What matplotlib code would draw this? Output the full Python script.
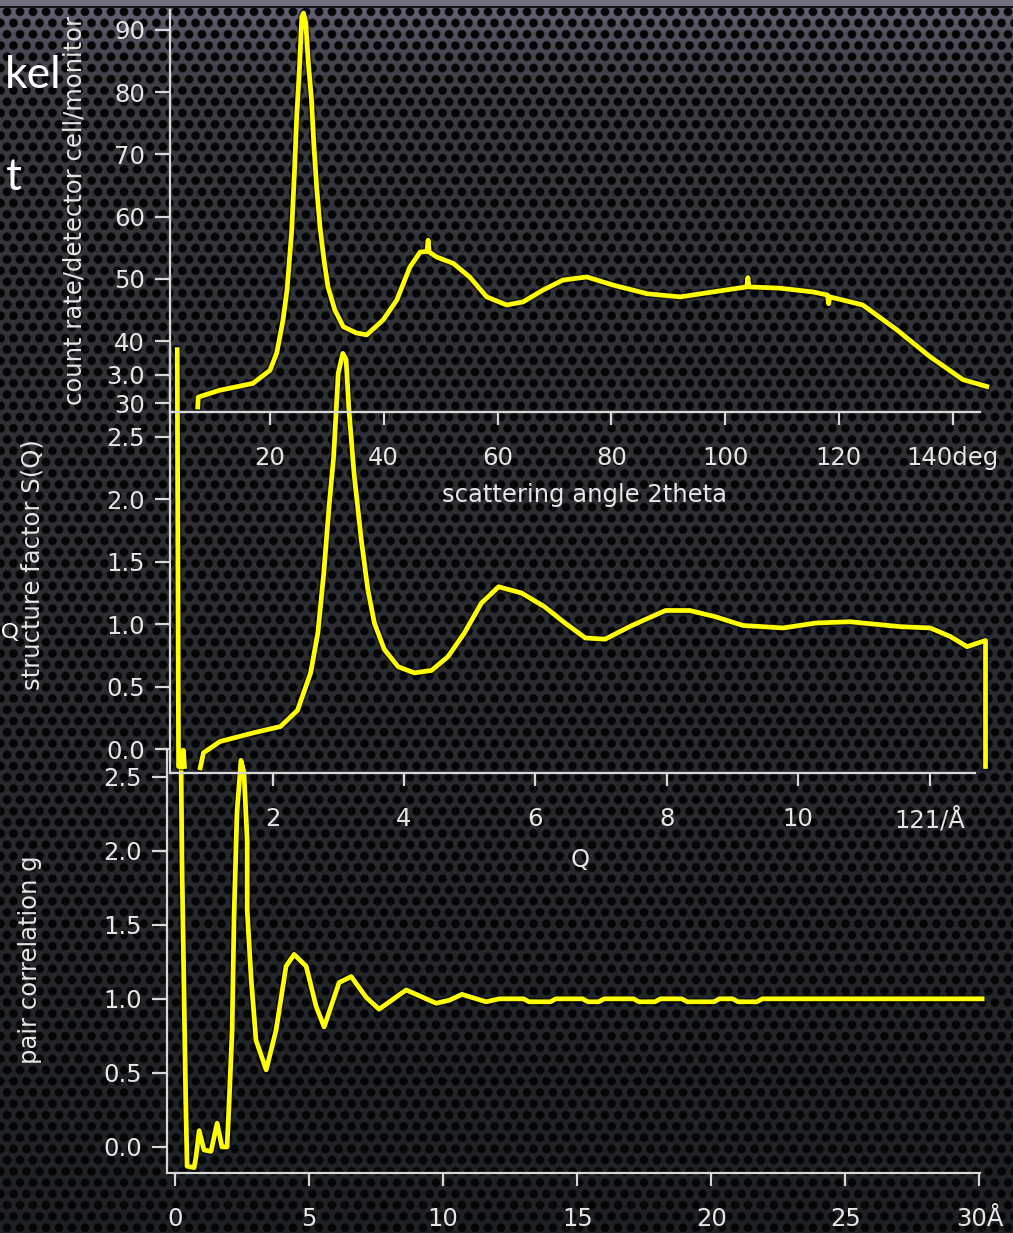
import numpy as np
import matplotlib
matplotlib.use("Agg")
import matplotlib.pyplot as plt
import matplotlib.patheffects as pe

# --- data ---
# top: raw count rate vs scattering angle
two_theta = [7.3, 7.4, 11.2, 17.0, 20.0, 21.2, 22.3, 23.0, 23.8, 24.3, 24.7, 25.2, 25.6, 25.9,
             26.3, 26.7, 27.3, 27.7, 28.2, 28.8, 29.5, 30.2, 31.4, 32.9, 35.2, 37.0, 39.9, 42.3,
             44.6, 46.4, 47.6, 47.8, 48.0, 49.3, 52.2, 55.1, 58.1, 61.6, 64.5, 68.0, 71.5, 75.7,
             80.3, 86.3, 92.1, 97.9, 103.8, 104.0, 104.2, 109.6, 115.4, 118.0, 118.2, 118.4,
             124.2, 130.2, 136.0, 141.8, 146.0]
counts = [29.4, 31.0, 32.1, 33.2, 35.3, 38.1, 43.4, 48.2, 57.4, 67.0, 76.0, 84.1, 92.1, 92.7,
          91.1, 85.2, 78.8, 71.8, 64.8, 58.3, 53.0, 48.7, 45.0, 42.3, 41.3, 41.0, 43.4, 46.6,
          51.9, 54.3, 54.4, 56.2, 54.3, 53.5, 52.5, 50.3, 47.1, 45.8, 46.3, 48.2, 49.8, 50.3,
          49.0, 47.6, 47.1, 47.9, 48.7, 50.2, 48.7, 48.5, 47.9, 47.4, 46.0, 47.1,
          45.8, 41.8, 37.5, 33.8, 32.7]

# middle: structure factor S(Q)
q = [0.55, 0.57, 0.63, 0.645, 0.66, np.nan,
     0.90, 0.95, 1.20, 1.71, 2.12, 2.38, 2.58, 2.69, 2.78, 2.86, 2.93, 3.00, 3.07, 3.12, 3.16,
     3.24, 3.35, 3.45, 3.55, 3.70, 3.91, 4.16, 4.42, 4.67, 4.92, 5.18, 5.44, 5.79, 6.14, 6.45,
     6.76, 7.06, 7.47, 7.98, 8.35, 8.74, 9.16, 9.77, 10.27, 10.79, 11.56, 12.01, 12.32, 12.57,
     12.85, 12.85]
s_q = [3.20, -0.14, -0.14, -0.01, -0.14, np.nan,
       -0.15, -0.03, 0.06, 0.13, 0.18, 0.31, 0.61, 0.93, 1.41, 1.94, 2.34, 3.01, 3.17, 3.12, 2.74,
       2.21, 1.68, 1.28, 1.01, 0.80, 0.66, 0.61, 0.63, 0.74, 0.93, 1.17, 1.30, 1.25, 1.14, 1.01,
       0.89, 0.88, 0.99, 1.11, 1.11, 1.06, 0.99, 0.97, 1.01, 1.02, 0.98, 0.97, 0.90, 0.82,
       0.87, -0.14]

# bottom: pair correlation g(r)
r = [0.22, 0.26, 0.40, 0.45, 0.71, 0.78, 0.90, 1.08, 1.34, 1.57, 1.75, 1.94, 2.01, 2.13, 2.20,
     2.31, 2.46, 2.57, 2.69, 2.69, 2.84, 3.02, 3.40, 3.77, 4.14, 4.44, 4.89, 5.26, 5.56, 6.12,
     6.57, 7.13, 7.61, 8.62, 9.74, 10.22, 10.7, 11.6, 12.1, 13.0, 13.2, 14.0, 14.2, 15.2, 15.4,
     15.8, 16.0, 17.1, 17.3, 17.9, 18.1, 18.9, 19.1, 20.1, 20.3, 20.8, 21.0, 21.7, 21.9, 30.1]
g_r = [2.68, 1.90, 0.30, -0.13, -0.14, -0.07, 0.11, -0.02, -0.03, 0.16, 0.0, 0.0, 0.27, 0.79, 1.55,
       2.26, 2.61, 2.53, 2.07, 1.60, 1.13, 0.72, 0.52, 0.79, 1.22, 1.30, 1.22, 0.95, 0.81, 1.11,
       1.15, 1.01, 0.93, 1.06, 0.97, 0.99, 1.03, 0.98, 1.0, 1.0, 0.98, 0.98, 1.0, 1.0, 0.98,
       0.98, 1.0, 1.0, 0.98, 0.98, 1.0, 1.0, 0.98, 0.98, 1.0, 1.0, 0.98, 0.98, 1.0, 1.0]

top_ticks = [20, 40, 60, 80, 100, 120, 140]
top_labels = ["20", "40", "60", "80", "100", "120", "140deg"]
mid_ticks = [2, 4, 6, 8, 10, 12]
mid_labels = ["2", "4", "6", "8", "10", "121/Å"]
bot_ticks = [0, 5, 10, 15, 20, 25, 30]
bot_labels = ["0", "5", "10", "15", "20", "25", "30Å"]

W, H = 1013, 1233
fig = plt.figure(figsize=(W / 100, H / 100), dpi=100)

# --- perforated metal background ---
yy, xx = np.mgrid[0:H, 0:W].astype(float)
sp = 13.0
rh = sp * np.sqrt(3) / 2
dist = np.full(xx.shape, 1e9)
r0 = np.floor(yy / rh)
for k in (0, 1):
    rr = r0 + k
    off = (rr % 2) * sp / 2
    cx = np.round((xx - off) / sp) * sp + off
    dist = np.minimum(dist, np.hypot(xx - cx, yy - rr * rh))
holes = np.clip((dist - 3.6) / 1.4, 0, 1)[..., None]
t = np.linspace(0, 1, H)[:, None, None]
base = (np.array([0.22, 0.22, 0.24]) * (1 - t) + np.array([0.12, 0.13, 0.14]) * t)
glow = np.exp(-np.arange(H) / 45.0)[:, None, None] * np.array([0.22, 0.20, 0.26])
base = np.broadcast_to(base + glow, (H, W, 3))
img = holes * base + (1 - holes) * np.array([0.02, 0.02, 0.025])
img[:6] = [0.45, 0.43, 0.50]
img[6:8] = [0.08, 0.08, 0.09]
bg = fig.add_axes([0, 0, 1, 1], zorder=-10)
bg.imshow(np.clip(img, 0, 1), aspect="auto")
bg.axis("off")

fg = "#d8d8d8"
yellow = "#ffff00"
shadow = [pe.Stroke(linewidth=5.8, foreground="black", alpha=0.45), pe.Normal()]


def px_axes(left, right, top, bottom):
    return fig.add_axes([left / W, 1 - bottom / H, (right - left) / W, (bottom - top) / H])


def style(ax):
    ax.set_facecolor("none")
    ax.spines["top"].set_visible(False)
    ax.spines["right"].set_visible(False)
    for k in ("left", "bottom"):
        ax.spines[k].set_color(fg)
        ax.spines[k].set_linewidth(1.6)
    ax.tick_params(colors=fg, labelcolor="#e6e6e6", width=1.6, labelsize=17.5)
    ax.tick_params(axis="y", length=11, pad=7)
    ax.tick_params(axis="x", length=9.5, pad=15)


# bottom panel
ax3 = px_axes(167, 980, 750, 1173)
style(ax3)
ax3.plot(r, g_r, color=yellow, lw=3.4, clip_on=False, path_effects=shadow)
ax3.set_xlim(-0.3, 30.02)
ax3.set_ylim(-0.176, 2.68)
ax3.set_xticks(bot_ticks)
ax3.set_xticklabels(bot_labels)
ax3.set_yticks([0.0, 0.5, 1.0, 1.5, 2.0, 2.5])
ax3.set_yticklabels(["0.0", "0.5", "1.0", "1.5", "2.0", "2.5"])

# middle panel
ax2 = px_axes(170, 975, 350, 773)
style(ax2)
ax2.plot(q, s_q, color=yellow, lw=3.4, clip_on=False, path_effects=shadow)
ax2.set_xlim(0.44, 12.69)
ax2.set_ylim(-0.192, 3.197)
ax2.set_xticks(mid_ticks)
ax2.set_xticklabels(mid_labels)
ax2.set_yticks([0.0, 0.5, 1.0, 1.5, 2.0, 2.5, 3.0])
ax2.set_yticklabels(["0.0", "0.5", "1.0", "1.5", "2.0", "2.5", "3.0"])

# top panel
ax1 = px_axes(170, 980, 10, 412)
style(ax1)
ax1.plot(two_theta, counts, color=yellow, lw=3.4, clip_on=False, path_effects=shadow)
ax1.set_xlim(2.43, 144.8)
ax1.set_ylim(28.6, 93.2)
ax1.set_xticks(top_ticks)
ax1.set_xticklabels(top_labels)
ax1.set_yticks([30, 40, 50, 60, 70, 80, 90])

# axis titles
lab = dict(color="#e6e6e6", fontsize=17.5, ha="center", va="center")
fig.text(585 / W, 1 - 495 / H, "scattering angle 2theta", **lab)
fig.text(580 / W, 1 - 860 / H, "Q", **lab)
fig.text(75 / W, 1 - 210 / H, "count rate/detector cell/monitor", rotation=90, **lab)
fig.text(33 / W, 1 - 565 / H, "structure factor S(Q)", rotation=90, **lab)
fig.text(30 / W, 1 - 960 / H, "pair correlation g", rotation=90, **lab)

# visible pieces of the slide text at the left edge
big = dict(color="white", fontsize=32, ha="left", va="center", family="Lato")
fig.text(5 / W, 1 - 75 / H, "kel", **big)
fig.text(6 / W, 1 - 178 / H, "t", **big)
fig.text(1 / W, 1 - 632 / H, "Q", color="white", fontsize=16, ha="left", va="center",
         family="Lato")

fig.savefig("out.png", dpi=100)
